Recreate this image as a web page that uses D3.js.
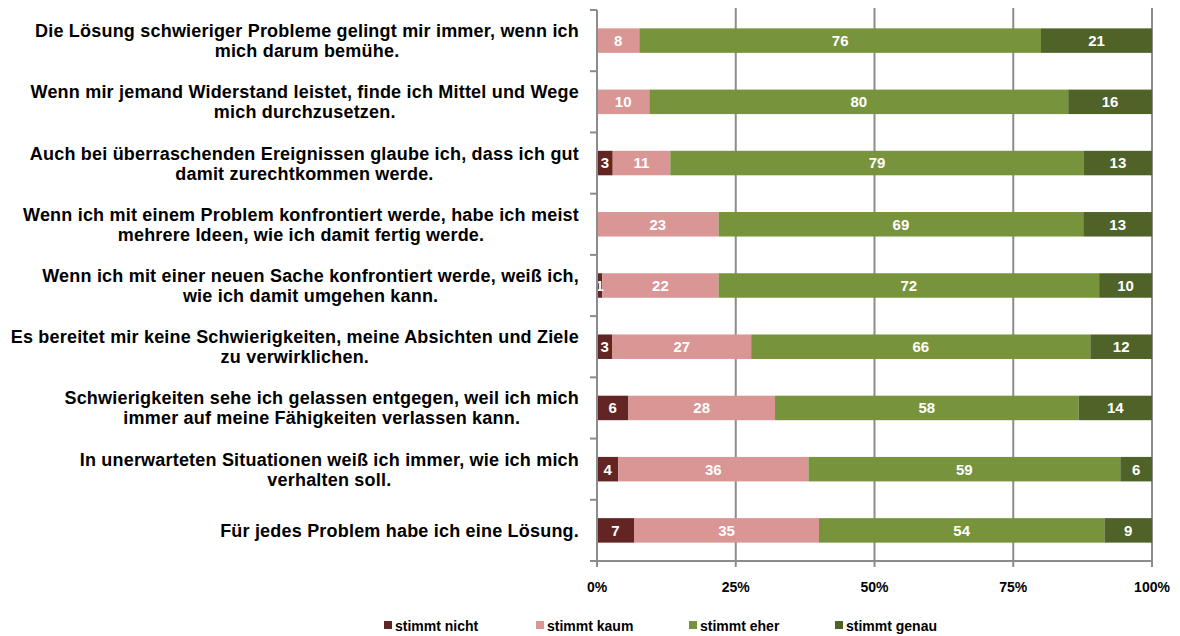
<!DOCTYPE html>
<html>
<head>
<meta charset="utf-8">
<script src="https://cdn.jsdelivr.net/npm/d3@7"></script>
<style>
  body { margin: 0; background: #fff; }
  svg { display: block; font-family: "Liberation Sans", Arial, sans-serif; }
</style>
</head>
<body>
<div class="data"></div>
<script>
// Kategorien (Zeilenumbruch wie im Original)
const categories = [
  "Die Lösung schwieriger Probleme gelingt mir immer, wenn ich\nmich darum bemühe.",
  "Wenn mir jemand Widerstand leistet, finde ich Mittel und Wege\nmich durchzusetzen.",
  "Auch bei überraschenden Ereignissen glaube ich, dass ich gut\ndamit zurechtkommen werde.",
  "Wenn ich mit einem Problem konfrontiert werde, habe ich meist\nmehrere Ideen, wie ich damit fertig werde.",
  "Wenn ich mit einer neuen Sache konfrontiert werde, weiß ich,\nwie ich damit umgehen kann.",
  "Es bereitet mir keine Schwierigkeiten, meine Absichten und Ziele\nzu verwirklichen.",
  "Schwierigkeiten sehe ich gelassen entgegen, weil ich mich\nimmer auf meine Fähigkeiten verlassen kann.",
  "In unerwarteten Situationen weiß ich immer, wie ich mich\nverhalten soll.",
  "Für jedes Problem habe ich eine Lösung."
];

const seriesNames = ["stimmt nicht", "stimmt kaum", "stimmt eher", "stimmt genau"];
const stimmtNicht = [0, 0, 3, 0, 1, 3, 6, 4, 7];
const stimmtKaum = [8, 10, 11, 23, 22, 27, 28, 36, 35];
const stimmtEher = [76, 80, 79, 69, 72, 66, 58, 59, 54];
const stimmtGenau = [21, 16, 13, 13, 10, 12, 14, 6, 9];
const xTicks = [0, 0.25, 0.5, 0.75, 1];

const colors = ["#632523", "#d99694", "#77933c", "#4f6228"];

const w = 1180;
const h = 636;
const plotLeft = 597;
const plotRight = 1152;
const plotTop = 10;
const plotBottom = 561;

const dataset = categories.map((c, i) => {
  const vals = [stimmtNicht[i], stimmtKaum[i], stimmtEher[i], stimmtGenau[i]];
  const total = d3.sum(vals);
  let acc = 0;
  const segs = vals.map((v, k) => {
    const s = { k: k, value: v, x0: acc / total, x1: (acc + v) / total };
    acc += v;
    return s;
  });
  return { cat: c, segs: segs };
});

const svg = d3.select(".data").append("svg").attr("width", w).attr("height", h);

const xScale = d3.scaleLinear().domain([0, 1]).range([plotLeft, plotRight]);
const yScale = d3.scaleBand().domain(categories).range([plotTop, plotBottom]).paddingInner(0.6).paddingOuter(0.3);
const bandStep = yScale.step();

// Gitterlinien
svg.append("g")
  .selectAll("line")
  .data(xTicks.slice(1))
  .enter()
  .append("line")
  .attr("x1", (d) => xScale(d))
  .attr("x2", (d) => xScale(d))
  .attr("y1", plotTop - 2)
  .attr("y2", plotBottom)
  .attr("stroke", "#8c8c8c")
  .attr("stroke-width", 2);

// Balken
const rows = svg.append("g")
  .selectAll("g")
  .data(dataset)
  .enter()
  .append("g");

rows.selectAll("rect")
  .data((d) => d.segs.filter((s) => s.value > 0).map((s) => Object.assign({ cat: d.cat }, s)))
  .enter()
  .append("rect")
  .attr("x", (d) => xScale(d.x0))
  .attr("width", (d) => xScale(d.x1) - xScale(d.x0))
  .attr("y", (d) => yScale(d.cat))
  .attr("height", yScale.bandwidth())
  .attr("fill", (d) => colors[d.k]);

rows.selectAll("text")
  .data((d) => d.segs.filter((s) => s.value > 0).map((s) => Object.assign({ cat: d.cat }, s)))
  .enter()
  .append("text")
  .attr("x", (d) => (xScale(d.x0) + xScale(d.x1)) / 2)
  .attr("y", (d) => yScale(d.cat) + yScale.bandwidth() / 2)
  .attr("dy", "0.36em")
  .attr("text-anchor", "middle")
  .attr("fill", "#fff")
  .attr("font-size", 15)
  .attr("font-weight", "bold")
  .text((d) => d.value);

// Achsen
const axisColor = "#8c8c8c";
svg.append("line")
  .attr("x1", plotLeft).attr("x2", plotLeft)
  .attr("y1", plotTop).attr("y2", plotBottom)
  .attr("stroke", axisColor).attr("stroke-width", 2);
svg.append("line")
  .attr("x1", plotLeft - 7).attr("x2", plotRight)
  .attr("y1", plotBottom).attr("y2", plotBottom)
  .attr("stroke", axisColor).attr("stroke-width", 2);

// Kategorie-Teilstriche
svg.append("g")
  .selectAll("line")
  .data(d3.range(categories.length))
  .enter()
  .append("line")
  .attr("x1", plotLeft - 7).attr("x2", plotLeft)
  .attr("y1", (i) => plotTop + i * bandStep)
  .attr("y2", (i) => plotTop + i * bandStep)
  .attr("stroke", axisColor).attr("stroke-width", 2);

// x Teilstriche + Beschriftung
const xg = svg.append("g");
xg.selectAll("line")
  .data(xTicks)
  .enter()
  .append("line")
  .attr("x1", (d) => xScale(d)).attr("x2", (d) => xScale(d))
  .attr("y1", plotBottom).attr("y2", plotBottom + 6)
  .attr("stroke", axisColor).attr("stroke-width", 2);
xg.selectAll("text")
  .data(xTicks)
  .enter()
  .append("text")
  .attr("x", (d) => xScale(d))
  .attr("y", 587)
  .attr("dy", "0.36em")
  .attr("text-anchor", "middle")
  .attr("font-size", 14)
  .attr("font-weight", "bold")
  .attr("fill", "#000")
  .text((d) => d3.format(".0%")(d));

// Kategorie-Beschriftung: Block rechtsbündig, Zeilen zentriert
const labelRight = 579;
const lineH = 20;
const labels = svg.append("g")
  .selectAll("g")
  .data(categories)
  .enter()
  .append("g");

labels.each(function (c) {
  const g = d3.select(this);
  const lines = c.split("\n");
  const cy = yScale(c) + yScale.bandwidth() / 2;
  const texts = lines.map((ln, j) =>
    g.append("text")
      .attr("y", cy + (j - (lines.length - 1) / 2) * lineH)
      .attr("dy", "0.36em")
      .attr("text-anchor", "middle")
      .attr("font-size", 18)
      .attr("letter-spacing", 0.2)
      .attr("font-weight", "bold")
      .attr("fill", "#000")
      .text(ln)
  );
  const maxW = d3.max(texts, (t) => t.node().getComputedTextLength());
  texts.forEach((t) => t.attr("x", labelRight - maxW / 2));
});

// Legende
const legendX = [384, 536, 689, 835];
const legend = svg.append("g")
  .selectAll("g")
  .data(seriesNames)
  .enter()
  .append("g")
  .attr("transform", (d, i) => `translate(${legendX[i]},626)`);
legend.append("rect")
  .attr("x", 0).attr("y", -5)
  .attr("width", 8).attr("height", 8)
  .attr("fill", (d, i) => colors[i]);
legend.append("text")
  .attr("x", 11)
  .attr("dy", "0.36em")
  .attr("font-size", 14)
  .attr("font-weight", "bold")
  .attr("fill", "#000")
  .text((d) => d);
</script>
</body>
</html>
